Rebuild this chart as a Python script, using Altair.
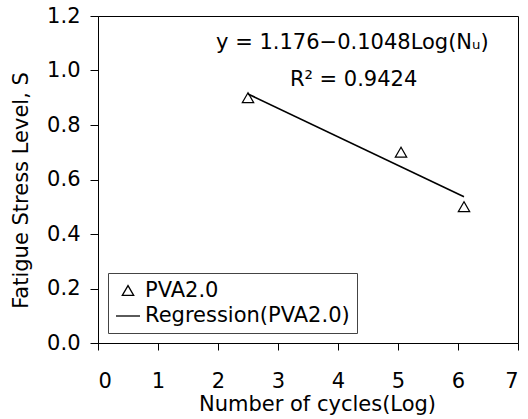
import altair as alt
import pandas as pd

cycles = [2.5, 5.05, 6.1]
stress = [0.9, 0.7, 0.5]
reg_cycles = [2.5, 6.1]
reg_stress = [0.914, 0.537]
series_names = ["PVA2.0", "Regression(PVA2.0)"]
eq_lines = ["y = 1.176\u22120.1048Log(N\u1d64)", "R\u00b2 = 0.9424"]
eq_x = [4.24, 4.26]
eq_y = [1.10, 0.965]
x_ticks = [0, 1, 2, 3, 4, 5, 6, 7]
y_ticks = [0.0, 0.2, 0.4, 0.6, 0.8, 1.0, 1.2]

pts = pd.DataFrame({"x": cycles, "y": stress, "series": series_names[0]})
reg = pd.DataFrame({"x": reg_cycles, "y": reg_stress})
ann = pd.DataFrame({"x": eq_x, "y": eq_y, "t": eq_lines})

FONT = "DejaVu Sans"
FS = 21
xs = alt.Scale(domain=[0, 7], nice=False)
ys = alt.Scale(domain=[0, 1.2], nice=False)

xax = alt.Axis(title="Number of cycles(Log)", values=x_ticks, format="d", grid=False,
               tickSize=7, labelPadding=37, labelBaseline="alphabetic",
               titleX=219, titleY=67, titleBaseline="alphabetic", titleAlign="center")
yax = alt.Axis(title="Fatigue Stress Level, S", values=y_ticks, format=".1f", grid=False,
               tickSize=8, labelPadding=10,
               titleX=-77, titleY=174, titleAngle=-90, titleBaseline="middle", titleAlign="center")

line = alt.Chart(reg).mark_line(color="black", strokeWidth=1.6).encode(
    x=alt.X("x:Q", scale=xs, axis=xax),
    y=alt.Y("y:Q", scale=ys, axis=yax),
)

leg = alt.Legend(title=None, orient="bottom-left", offset=10, strokeColor="#444",
                 fillColor="white", padding=7, labelFont=FONT, labelFontSize=FS,
                 labelColor="black", symbolStrokeColor="black", symbolFillColor="transparent",
                 symbolStrokeWidth=1.3, rowPadding=2, labelOffset=4, labelLimit=400)

points = alt.Chart(pts).mark_point(shape="triangle-up", filled=False, color="black",
                                   strokeWidth=1.2, opacity=1).encode(
    x=alt.X("x:Q", scale=xs),
    y=alt.Y("y:Q", scale=ys),
    shape=alt.Shape("series:N", scale=alt.Scale(domain=series_names, range=["triangle-up", "stroke"]), legend=leg),
    size=alt.Size("series:N", scale=alt.Scale(domain=series_names, range=[130, 576]), legend=leg),
)

text = alt.Chart(ann).mark_text(font=FONT, fontSize=FS, color="black", align="center",
                                baseline="middle").encode(
    x=alt.X("x:Q", scale=xs),
    y=alt.Y("y:Q", scale=ys),
    text="t:N",
)

chart = alt.layer(line, points, text).properties(
    width=420, height=327,
    padding={"left": 98, "top": 16, "right": 10, "bottom": 76},
    autosize="none",
).configure_view(stroke="black", strokeWidth=1).configure_axis(
    labelFont=FONT, labelFontSize=FS, labelColor="black",
    titleFont=FONT, titleFontSize=FS, titleColor="black", titleFontWeight="normal",
    domainColor="black", tickColor="black", domainWidth=1, tickWidth=1,
)

chart.save("out.html", embed_options={"renderer": "svg", "actions": False})
